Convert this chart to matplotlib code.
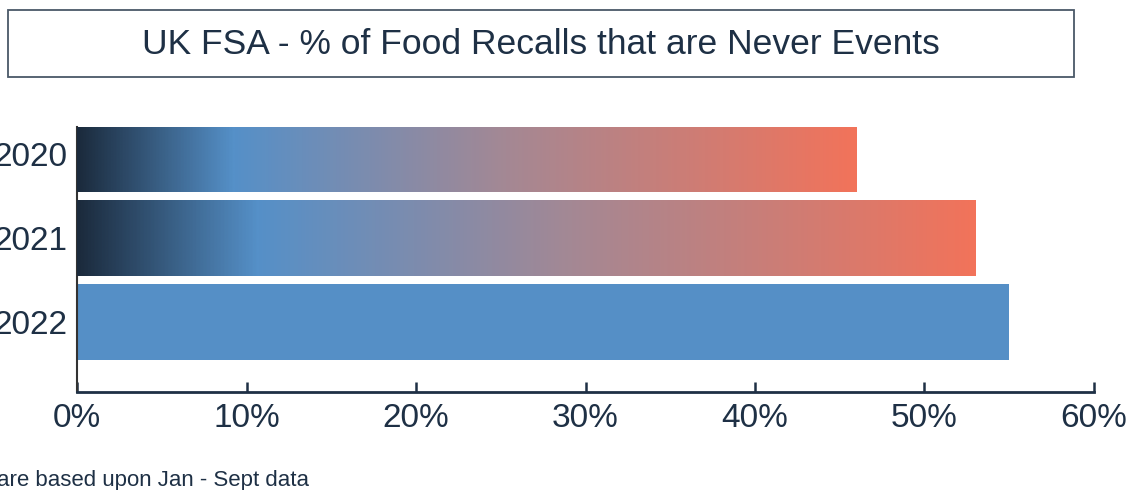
import matplotlib
matplotlib.use("Agg")
import matplotlib.pyplot as plt
from matplotlib.colors import LinearSegmentedColormap
from matplotlib.patches import Rectangle
import numpy as np

plt.rcParams['font.family'] = ['Liberation Sans', 'DejaVu Sans']

#Chart data
years = ["2022", "2021", "2020"]
pct = [55, 53, 46]
gradient_bar = [False, True, True]
xticks = [0, 10, 20, 30, 40, 50, 60]
title = "UK FSA - % of Food Recalls that are Never Events"
footnote = "are based upon Jan - Sept data"

navy = "#1e3045"
blue = "#558fc6"
grad = LinearSegmentedColormap.from_list(
    "fsa", [(0.0, "#1b2a3c"), (0.2, "#5590c8"), (0.55, "#a48894"), (1.0, "#f2735a")])

fig = plt.figure(figsize=(11.41, 4.9), dpi=100)
ax = fig.add_axes([0.0675, 0.2, 0.8913, 0.5408])

ypos = np.arange(len(years))
bars = ax.barh(ypos, pct, height=0.9, color=blue, zorder=2)

ax.set_xlim(0, 60)
ax.set_ylim(-0.833, 2.32)
ytop = ax.get_ylim()[1]

#Fill the older bars with a left-to-right gradient clipped to the bar
ramp = np.linspace(0, 1, 512).reshape(1, -1)
for b, use_grad in zip(bars, gradient_bar):
    if not use_grad:
        continue
    x0, y0 = b.get_x(), b.get_y()
    w, h = b.get_width(), b.get_height()
    im = ax.imshow(ramp, cmap=grad, aspect="auto", extent=(x0, x0 + w, y0, y0 + h),
                   interpolation="bilinear", zorder=3)
    clip = Rectangle((x0, y0), w, min(y0 + h, ytop) - y0, transform=ax.transData)
    im.set_clip_path(clip)

ax.set_xlim(0, 60)
ax.set_ylim(-0.833, 2.32)
ax.set_xticks(xticks)
ax.set_xticklabels([f"{t}%" for t in xticks])
ax.set_yticks(ypos)
ax.set_yticklabels(years)

ax.spines["top"].set_visible(False)
ax.spines["right"].set_visible(False)
ax.spines["bottom"].set_color(navy)
ax.spines["bottom"].set_linewidth(2)
ax.spines["left"].set_color("#333333")
ax.spines["left"].set_linewidth(1.5)
ax.tick_params(axis="x", direction="in", length=7, width=1.8, color=navy,
               labelsize=24, labelcolor=navy, pad=8)
ax.tick_params(axis="y", length=0, labelsize=24, labelcolor=navy, pad=7)

#Boxed title
fig.patches.append(Rectangle((8 / 1141, 1 - 77 / 490), 1066 / 1141, 67 / 490,
                             transform=fig.transFigure, fill=False,
                             edgecolor="#4a5868", linewidth=1.3))
fig.text(541 / 1141, 1 - 44 / 490, title, ha="center", va="center",
         fontsize=25.5, color=navy)

fig.text(-0.003, 1 - 480 / 490, footnote, ha="left", va="center",
         fontsize=16, color=navy)

fig.savefig("out.png", dpi=100)
